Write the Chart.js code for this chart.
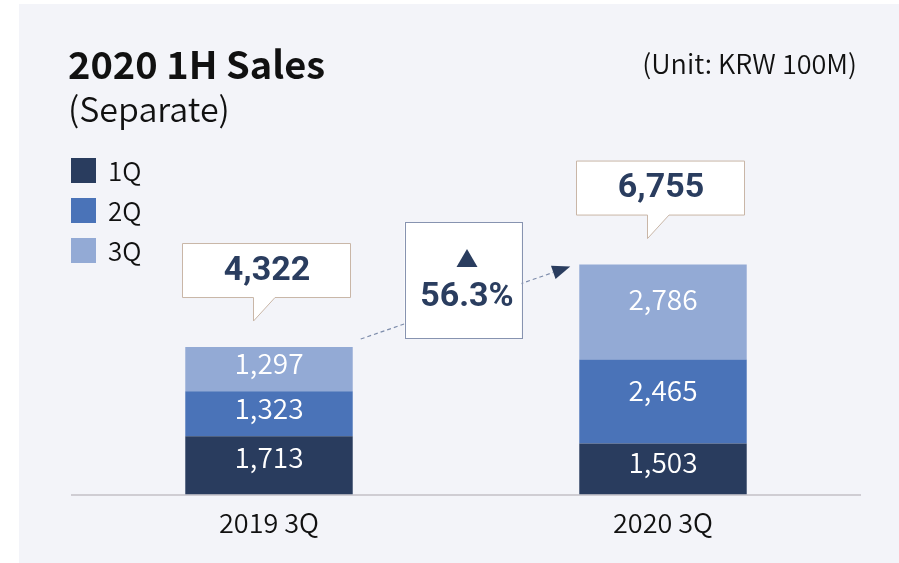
<!DOCTYPE html>
<html>
<head>
<meta charset="utf-8">
<script src="https://cdn.jsdelivr.net/npm/chart.js@4.4.1/dist/chart.umd.min.js"></script>
<style>
  html, body { margin: 0; padding: 0; background: #ffffff; }
  canvas { display: block; }
</style>
</head>
<body>
<canvas id="salesChart" width="899" height="563"></canvas>
<script>
// datos del grafico
const categories = ['2019 3Q', '2020 3Q'];
const seriesLabels = ['1Q', '2Q', '3Q'];
const q1Values = [1713, 1503];
const q2Values = [1323, 2465];
const q3Values = [1297, 2786];
const totals = [4322, 6755];
const growthLabel = '56.3%';

// colores
const colorQ1 = '#293c5e';
const colorQ2 = '#4a73b8';
const colorQ3 = '#93aad5';
const navy = '#2a3d5f';
const panelBg = '#f3f4f9';
const fontKR = '"Noto Sans CJK KR", "Noto Sans", sans-serif';
const fontNum = 'Roboto, "Noto Sans", sans-serif';

const fmt = (v) => v.toLocaleString('en-US');

// fondo, titulo y leyenda
const backgroundPlugin = {
  id: 'backgroundPlugin',
  beforeDraw(chart) {
    const ctx = chart.ctx;
    ctx.save();
    ctx.fillStyle = '#ffffff';
    ctx.fillRect(0, 0, chart.width, chart.height);
    ctx.fillStyle = panelBg;
    ctx.fillRect(19, 4, chart.width - 19, chart.height - 4);

    ctx.fillStyle = '#111111';
    ctx.textBaseline = 'alphabetic';
    ctx.textAlign = 'left';
    ctx.font = 'bold 38px ' + fontKR;
    ctx.fillText('2020 1H Sales', 68, 79);
    ctx.font = '350 34px ' + fontKR;
    ctx.fillText('(Separate)', 68, 122);

    ctx.textAlign = 'right';
    ctx.font = '350 27px ' + fontKR;
    ctx.fillText('(Unit: KRW 100M)', 857, 74);

    // leyenda
    ctx.textAlign = 'left';
    ctx.textBaseline = 'middle';
    ctx.font = '350 26px ' + fontKR;
    chart.data.datasets.forEach((ds, i) => {
      const y = 158 + i * 40;
      ctx.fillStyle = ds.backgroundColor;
      ctx.fillRect(71, y, 25, 25);
      ctx.fillStyle = '#111111';
      ctx.fillText(ds.label, 108, y + 13);
    });
    ctx.restore();
  }
};

// etiquetas dentro de las barras + callouts
const labelsPlugin = {
  id: 'labelsPlugin',
  afterDatasetsDraw(chart) {
    const ctx = chart.ctx;
    ctx.save();
    ctx.fillStyle = '#ffffff';
    ctx.textAlign = 'center';
    ctx.textBaseline = 'middle';
    ctx.font = '350 28px ' + fontKR;
    chart.data.datasets.forEach((ds, di) => {
      const meta = chart.getDatasetMeta(di);
      meta.data.forEach((bar, i) => {
        const p = bar.getProps(['x', 'y', 'base'], true);
        const h = p.base - p.y;
        ctx.fillText(fmt(ds.data[i]), p.x, p.y + h * 0.37);
      });
    });

    const topMeta = chart.getDatasetMeta(chart.data.datasets.length - 1);
    const bars = topMeta.data.map(b => b.getProps(['x', 'y', 'width'], true));

    // linea punteada con flecha
    const x0 = bars[0].x + bars[0].width / 2 + 8;
    const y0 = bars[0].y - 8;
    const x1 = bars[1].x - bars[1].width / 2 - 9;
    const y1 = bars[1].y + 2;
    const ang = Math.atan2(y1 - y0, x1 - x0);
    const headLen = 18;
    ctx.strokeStyle = '#7d8cab';
    ctx.lineWidth = 1.2;
    ctx.setLineDash([4, 3]);
    ctx.beginPath();
    ctx.moveTo(x0, y0);
    ctx.lineTo(x1 - headLen * Math.cos(ang), y1 - headLen * Math.sin(ang));
    ctx.stroke();
    ctx.setLineDash([]);
    ctx.fillStyle = navy;
    ctx.beginPath();
    ctx.moveTo(x1, y1);
    ctx.lineTo(x1 - headLen * Math.cos(ang) + 7 * Math.sin(ang), y1 - headLen * Math.sin(ang) - 7 * Math.cos(ang));
    ctx.lineTo(x1 - headLen * Math.cos(ang) - 7 * Math.sin(ang), y1 - headLen * Math.sin(ang) + 7 * Math.cos(ang));
    ctx.closePath();
    ctx.fill();

    // callouts de totales
    bars.forEach((b, i) => {
      const tipY = b.y - 26;
      const boxB = tipY - 24;
      const boxT = boxB - 54;
      const boxL = b.x - 3 - 84;
      const boxR = b.x - 3 + 84;
      const tl = b.x - 16;
      const tr = b.x + 6;
      ctx.fillStyle = '#ffffff';
      ctx.strokeStyle = '#c9b6a7';
      ctx.lineWidth = 1;
      ctx.beginPath();
      ctx.moveTo(boxL + 0.5, boxT + 0.5);
      ctx.lineTo(boxR + 0.5, boxT + 0.5);
      ctx.lineTo(boxR + 0.5, boxB + 0.5);
      ctx.lineTo(tr, boxB + 0.5);
      ctx.lineTo(tl + 0.5, tipY);
      ctx.lineTo(tl + 0.5, boxB + 0.5);
      ctx.lineTo(boxL + 0.5, boxB + 0.5);
      ctx.closePath();
      ctx.fill();
      ctx.stroke();
      ctx.fillStyle = navy;
      ctx.font = 'bold 34px ' + fontNum;
      ctx.textAlign = 'center';
      ctx.textBaseline = 'middle';
      ctx.fillText(fmt(totals[i]), b.x - 2, (boxT + boxB) / 2 + 1);
    });

    // caja de crecimiento
    const midX = (bars[0].x + bars[1].x) / 2 - 3;
    const gT = 222, gH = 116, gW = 117;
    ctx.fillStyle = '#ffffff';
    ctx.strokeStyle = '#8793b0';
    ctx.lineWidth = 1;
    ctx.fillRect(midX - gW / 2, gT, gW, gH);
    ctx.strokeRect(Math.round(midX - gW / 2) + 0.5, gT + 0.5, gW, gH);
    ctx.fillStyle = navy;
    ctx.beginPath();
    ctx.moveTo(midX + 4, 249);
    ctx.lineTo(midX + 14.5, 267);
    ctx.lineTo(midX - 6.5, 267);
    ctx.closePath();
    ctx.fill();
    ctx.font = 'bold 34px ' + fontNum;
    ctx.textAlign = 'center';
    ctx.textBaseline = 'middle';
    ctx.fillText(growthLabel, midX + 4, 297);
    ctx.restore();
  }
};

const ctx = document.getElementById('salesChart');

new Chart(ctx, {
  type: 'bar',
  data: {
    labels: categories,
    datasets: [
      { label: seriesLabels[0], data: q1Values, backgroundColor: colorQ1 },
      { label: seriesLabels[1], data: q2Values, backgroundColor: colorQ2 },
      { label: seriesLabels[2], data: q3Values, backgroundColor: colorQ3 }
    ]
  },
  options: {
    responsive: false,
    animation: false,
    layout: {
      padding: { left: 72, right: 39, top: 154, bottom: 20 }
    },
    datasets: {
      bar: { categoryPercentage: 1, barPercentage: 0.425, borderWidth: 0 }
    },
    scales: {
      x: {
        stacked: true,
        grid: { display: false },
        border: { display: true, color: '#cfcdd3', width: 2 },
        ticks: {
          color: '#111111',
          padding: 4,
          font: { family: fontKR, size: 27, weight: '350' }
        }
      },
      y: {
        stacked: true,
        display: false,
        min: 0,
        max: 10000
      }
    },
    plugins: {
      legend: { display: false },
      title: { display: false },
      tooltip: { enabled: false }
    }
  },
  plugins: [backgroundPlugin, labelsPlugin]
});
</script>
</body>
</html>
